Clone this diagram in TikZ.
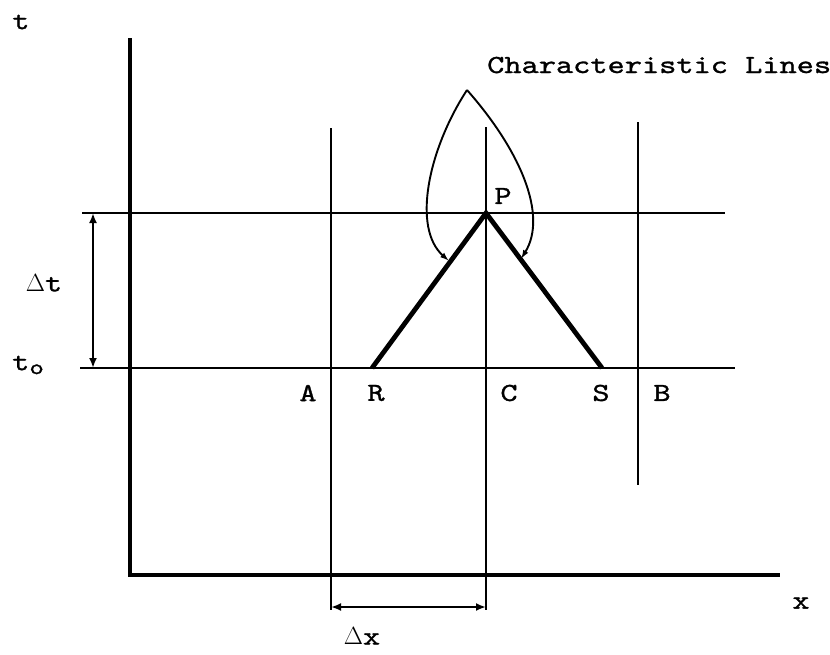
\documentclass[tikz,border=0pt]{standalone}
\usepackage{fontspec}
\usetikzlibrary{arrows.meta}
\newfontfamily\twfamily[FakeStretch=1.26,FakeBold=1.1]{lmmono10-regular.otf}
\newcommand{\twfont}{\fontsize{26}{31}\twfamily\selectfont}
\begin{document}
\begin{tikzpicture}[x=1pt,y=-1pt,
  grid line/.style={line width=2.8pt},
  axis line/.style={line width=3.2pt},
  char line/.style={line width=4.8pt},
  dim arrow/.style={line width=2.2pt,{Latex[length=10pt,width=8pt]}-{Latex[length=10pt,width=8pt]}},
  lead/.style={line width=1.9pt,-{Latex[length=9pt,width=6pt]}},
  lbl/.style={font=\twfont,inner sep=0pt}]
\useasboundingbox (0,0) rectangle (830,654);
% coordinates
\coordinate (O) at (130,575);
\coordinate (Ttop) at (130,38);
\coordinate (Xend) at (780,575);
\coordinate (P) at (486,213);
\coordinate (R) at (372,368);
\coordinate (S) at (602,368);
\coordinate (Atop) at (331,128);
\coordinate (Abot) at (331,610);
\coordinate (Ctop) at (486,127);
\coordinate (Cbot) at (486,610);
\coordinate (Btop) at (638,122);
\coordinate (Bbot) at (638,485);
\coordinate (H1l) at (82,213);
\coordinate (H1r) at (725,213);
\coordinate (H0l) at (80,368);
\coordinate (H0r) at (735,368);
\coordinate (DTa) at (93,213);
\coordinate (DTb) at (93,368);
\coordinate (DXa) at (331,607);
\coordinate (DXb) at (486,607);
\coordinate (apex) at (467,90);
\coordinate (tipL) at (449,261);
\coordinate (tipR) at (521,259);
% axes
\draw[axis line] (Ttop) -- (O) -- (Xend);
% grid lines
\draw[grid line] (H1l) -- (H1r);
\draw[grid line] (H0l) -- (H0r);
\draw[grid line] (Atop) -- (Abot);
\draw[grid line] (Ctop) -- (Cbot);
\draw[grid line] (Btop) -- (Bbot);
% characteristics
\draw[char line,line join=miter] (R) -- (P) -- (S);
% dimensions
\draw[dim arrow] (DTa) -- (DTb);
\draw[dim arrow] (DXa) -- (DXb);
% leaders
\draw[lead] (apex) .. controls (428,150) and (412,228) .. (tipL);
\draw[lead] (apex) .. controls (520,150) and (548,215) .. (tipR);
% labels
\node[lbl] (lt) at (21,22) {t};
\node[lbl] (lx) at (801,603) {x};
\node[lbl] (ldt) at (44,283) {$\Delta$t};
\node[lbl,anchor=west] (lto) at (12,365) {t\raisebox{-0.35ex}{\fontsize{22}{26}\selectfont o}};
\node[lbl] (ldx) at (362,636) {$\Delta$x};
\node[lbl] (lA) at (308,393) {A};
\node[lbl] (lR) at (376,393) {R};
\node[lbl] (lC) at (509,393) {C};
\node[lbl] (lS) at (601,393) {S};
\node[lbl] (lB) at (662,393) {B};
\node[lbl] (lP) at (503,196) {P};
\node[lbl,anchor=base west] (lch) at (487,73) {Characteristic Lines};
\end{tikzpicture}
\end{document}
